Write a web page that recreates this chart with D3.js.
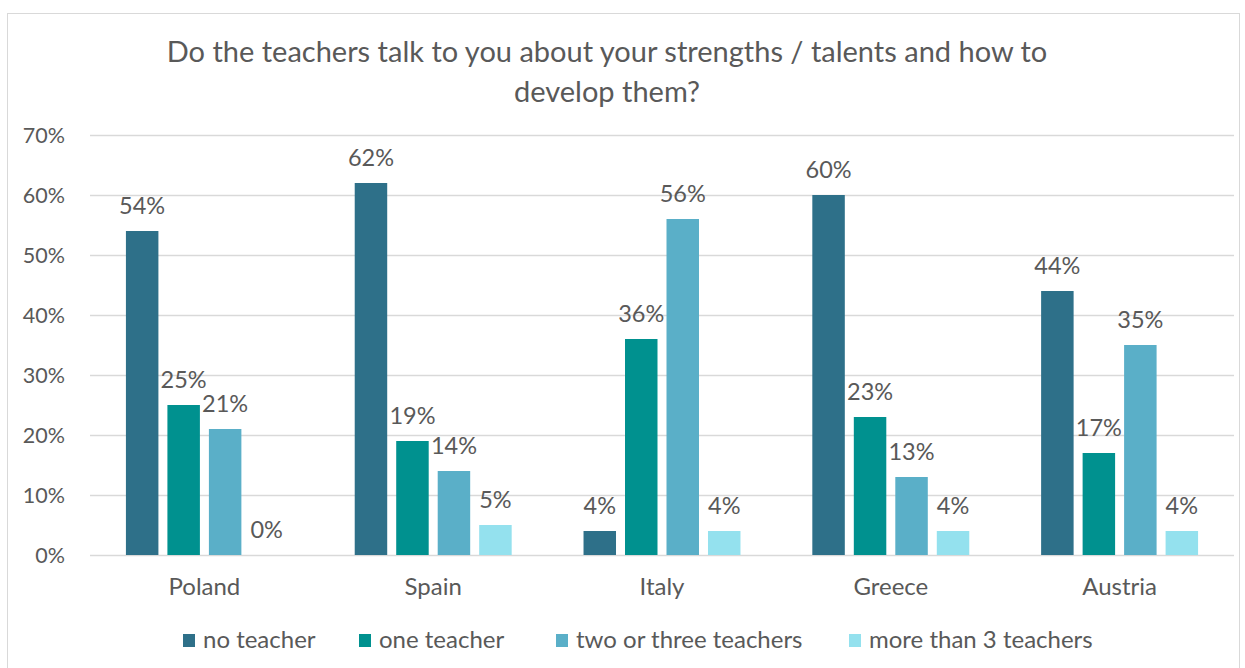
<!DOCTYPE html>
<html><head><meta charset="utf-8">
<script src="https://cdn.jsdelivr.net/npm/d3@7"></script>
<style>body{margin:0;background:#fff;} text{font-family:Lato,"Open Sans",sans-serif;fill:#595959;}</style>
</head><body>
<svg id="c" width="1245" height="668"></svg>
<script>
const categories = ["Poland","Spain","Italy","Greece","Austria"];
const seriesNames = ["no teacher","one teacher","two or three teachers","more than 3 teachers"];
const noTeacher = [54,62,4,60,44];
const oneTeacher = [25,19,36,23,17];
const twoThree = [21,14,56,13,35];
const moreThan3 = [0,5,4,4,4];
const yTicks = [0,10,20,30,40,50,60,70];
const titleLines = ["Do the teachers talk to you about your strengths / talents and how to","develop them?"];
const colors = ["#2E7089","#00918F","#5AAFC8","#94E1EE"];
const series = [noTeacher, oneTeacher, twoThree, moreThan3];

const svg = d3.select("#c");
svg.append("rect").attr("x",7.5).attr("y",13.5).attr("width",1232).attr("height",670).attr("fill","none").attr("stroke","#d9d9d9");

const x0 = d3.scaleBand().domain(categories).range([90,1234]).paddingInner(0.314).paddingOuter(0.157);
const x1 = d3.scaleBand().domain(d3.range(4)).range([0,x0.bandwidth()]).paddingInner(0.217).paddingOuter(0);
const y = d3.scaleLinear().domain([0,70]).range([555,135]);

// title
svg.selectAll(".title").data(titleLines).join("text")
  .attr("x",607).attr("y",(d,i)=>62+i*40).attr("text-anchor","middle")
  .style("font-size","29px").text(d=>d);

// gridlines
svg.append("g").selectAll("line").data(yTicks).join("line")
  .attr("x1",90).attr("x2",1234).attr("y1",d=>y(d)+0.5).attr("y2",d=>y(d)+0.5)
  .attr("stroke","#d9d9d9").attr("stroke-width",1.3);

// y axis
const yAxis = d3.axisLeft(y).tickValues(yTicks).tickFormat(d=>d+"%").tickSize(0).tickPadding(0);
const ya = svg.append("g").attr("transform","translate(65,0)").call(yAxis);
ya.select(".domain").remove();
ya.selectAll("text").style("font-size","21.5px").style("font-family","Lato,sans-serif").attr("fill","#595959").attr("dy","0.35em");

// x axis
const xAxis = d3.axisBottom(x0).tickSize(0).tickPadding(0);
const xa = svg.append("g").attr("transform","translate(0,595)").call(xAxis);
xa.select(".domain").remove();
xa.selectAll("text").style("font-size","24px").style("font-family","Lato,sans-serif").attr("fill","#595959").attr("dy","0");

// bars
const g = svg.append("g");
categories.forEach((c,ci)=>{
  series.forEach((s,si)=>{
    const v = s[ci];
    const bx = x0(c)+x1(si);
    g.append("rect").attr("x",bx).attr("y",y(v)).attr("width",x1.bandwidth()).attr("height",y(0)-y(v))
      .attr("fill",colors[si]);
    g.append("text").attr("x",bx+x1.bandwidth()/2).attr("y",y(v)-17).attr("text-anchor","middle")
      .style("font-size","23.5px").text(v+"%");
  });
});

// legend
const legX = [183,359,556,849];
const leg = svg.append("g");
seriesNames.forEach((n,i)=>{
  leg.append("rect").attr("x",legX[i]).attr("y",634).attr("width",12).attr("height",13).attr("fill",colors[i]);
  leg.append("text").attr("x",legX[i]+20).attr("y",648).style("font-size","24px").text(n);
});
</script>
</body></html>
